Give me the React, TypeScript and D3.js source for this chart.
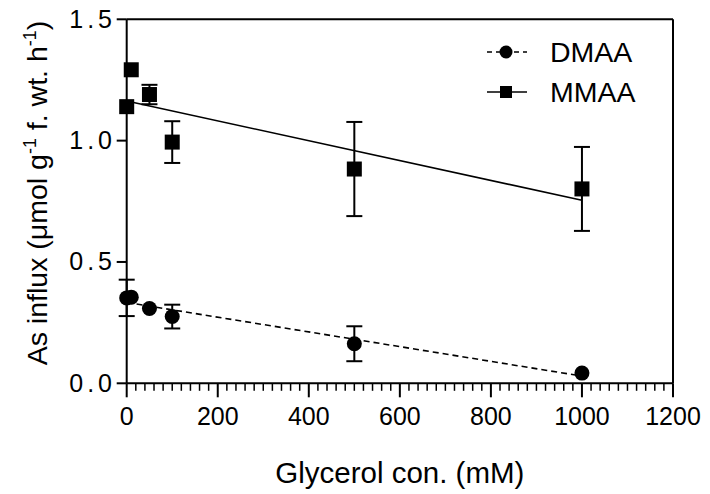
import React from "react";
import * as d3 from "d3";

const concentrations = [0, 10, 50, 100, 500, 1000];
const dmaaValues = [0.352, 0.355, 0.308, 0.275, 0.163, 0.042];
const dmaaErrors: (number | null)[] = [0.075, null, null, 0.049, 0.072, null];
const mmaaValues = [1.14, 1.292, 1.19, 0.994, 0.883, 0.801];
const mmaaErrors: (number | null)[] = [null, null, 0.04, 0.086, 0.194, 0.173];
const xTicks = [0, 200, 400, 600, 800, 1000, 1200];
const yTicks = [0, 0.5, 1.0, 1.5];
const seriesNames = ["DMAA", "MMAA"];

const W = 710;
const H = 494;
const margin = { left: 126.7, right: 37, top: 19.3, bottom: 110.7 };
const FONT = "'Liberation Sans', Arial, Helvetica, sans-serif";

function fit(xs: number[], ys: number[]) {
  const mx = d3.mean(xs)!;
  const my = d3.mean(ys)!;
  let sxy = 0;
  let sxx = 0;
  xs.forEach((x, i) => {
    sxy += (x - mx) * (ys[i] - my);
    sxx += (x - mx) * (x - mx);
  });
  const slope = sxy / sxx;
  return { slope, intercept: my - slope * mx };
}

export default function App() {
  const x = d3.scaleLinear().domain([0, 1200]).range([margin.left, W - margin.right]);
  const y = d3.scaleLinear().domain([0, 1.5]).range([H - margin.bottom, margin.top]);
  const minorTicks = d3.range(0, 1201, 20).filter((v) => v % 200 !== 0);
  const x0 = x(0);
  const x1 = x(1200);
  const y0 = y(0);
  const yTop = y(1.5);

  const fD = fit(concentrations, dmaaValues);
  const fM = fit(concentrations, mmaaValues);

  const fitLine = (f: { slope: number; intercept: number }) =>
    d3
      .line<number>()
      .x((d) => x(d))
      .y((d) => y(f.intercept + f.slope * d))([0, 1000]) || "";

  const errBars = (vals: number[], errs: (number | null)[], key: string) =>
    concentrations.map((c, i) => {
      const e = errs[i];
      if (e == null) return null;
      const cx = x(c);
      const yt = y(vals[i] + e);
      const yb = y(vals[i] - e);
      return (
        <g key={key + i} stroke="#000" strokeWidth={2}>
          <line x1={cx} x2={cx} y1={yt} y2={yb} />
          <line x1={cx - 8} x2={cx + 8} y1={yt} y2={yt} />
          <line x1={cx - 8} x2={cx + 8} y1={yb} y2={yb} />
        </g>
      );
    });

  const sq = 15;

  return (
    <svg
      width={W}
      height={H}
      style={{ position: "absolute", left: 0, top: 0, background: "#fff" }}
      fontFamily={FONT}
    >
      <rect x={0} y={0} width={W} height={H} fill="#fff" />
      {/* fit lines */}
      <path d={fitLine(fM)} fill="none" stroke="#000" strokeWidth={1.6} />
      <path d={fitLine(fD)} fill="none" stroke="#000" strokeWidth={1.6} strokeDasharray="6,4" />

      {errBars(dmaaValues, dmaaErrors, "d")}
      {errBars(mmaaValues, mmaaErrors, "m")}

      {concentrations.map((c, i) => (
        <circle key={"c" + i} cx={x(c)} cy={y(dmaaValues[i])} r={7.5} fill="#000" />
      ))}
      {concentrations.map((c, i) => (
        <rect
          key={"s" + i}
          x={x(c) - sq / 2}
          y={y(mmaaValues[i]) - sq / 2}
          width={sq}
          height={sq}
          fill="#000"
        />
      ))}

      {/* frame */}
      <g stroke="#000" strokeWidth={2} fill="none">
        <line x1={x0} x2={x1} y1={y0} y2={y0} />
        <line x1={x0} x2={x0} y1={y0} y2={yTop} />
        <line x1={x0} x2={x1} y1={yTop} y2={yTop} />
        <line x1={x1} x2={x1} y1={yTop} y2={y0} />
      </g>

      {/* ticks */}
      <g stroke="#000" strokeWidth={2}>
        {xTicks.map((t) => (
          <line key={"xt" + t} x1={x(t)} x2={x(t)} y1={y0} y2={y0 + 14} />
        ))}
        {minorTicks.map((t) => (
          <line key={"xm" + t} x1={x(t)} x2={x(t)} y1={y0} y2={y0 + 7.5} strokeWidth={1.5} />
        ))}
        {yTicks.map((t) => (
          <line key={"yt" + t} x1={x0 - 10} x2={x0} y1={y(t)} y2={y(t)} />
        ))}
      </g>
      <g fontSize={25} fill="#000">
        {xTicks.map((t) => (
          <text key={"xl" + t} x={x(t)} y={425} textAnchor="middle">
            {t}
          </text>
        ))}
        {yTicks.map((t) => (
          <text key={"yl" + t} x={116} y={y(t) + 8.5} textAnchor="end" letterSpacing={4}>
            {t.toFixed(1)}
          </text>
        ))}
      </g>

      {/* axis titles */}
      <text x={(x0 + x1) / 2} y={483} fontSize={29.5} textAnchor="middle" fill="#000">
        Glycerol con. (mM)
      </text>
      <text
        transform={`translate(46.5, ${193}) rotate(-90)`}
        fontSize={28.5}
        textAnchor="middle"
        fill="#000"
      >
        As influx (μmol g
        <tspan fontSize={18} dy={-11}>-1</tspan>
        <tspan dy={11}> f. wt. h</tspan>
        <tspan fontSize={18} dy={-11}>-1</tspan>
        <tspan dy={11}>)</tspan>
      </text>

      {/* legend */}
      <g>
        <line x1={487} x2={527} y1={52} y2={52} stroke="#000" strokeWidth={1.6} strokeDasharray="5,4" />
        <circle cx={506} cy={52} r={6.5} fill="#000" />
        <text x={550} y={52} dy={10} fontSize={28.5} fill="#000">
          {seriesNames[0]}
        </text>
        <line x1={487} x2={527} y1={92} y2={92} stroke="#000" strokeWidth={1.6} />
        <rect x={506 - 6} y={92 - 6} width={12} height={12} fill="#000" />
        <text x={550} y={92} dy={10} fontSize={28.5} fill="#000">
          {seriesNames[1]}
        </text>
      </g>
    </svg>
  );
}
